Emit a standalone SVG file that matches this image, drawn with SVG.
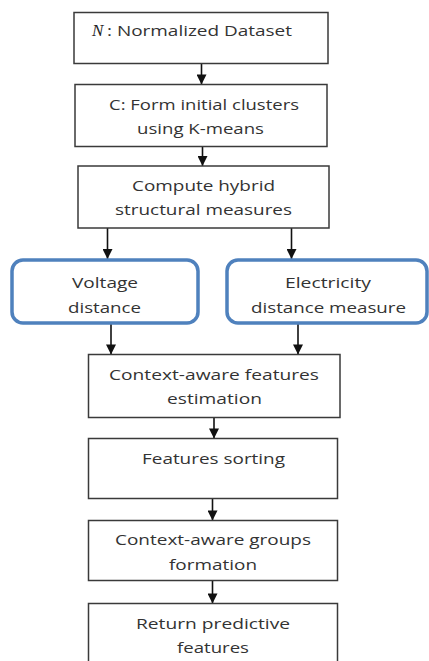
<svg xmlns="http://www.w3.org/2000/svg" width="429" height="661" viewBox="0 0 429 661">
<style>
.box{fill:#fff;stroke:#3a3a3a;stroke-width:1.5}
.rbox{fill:#fff;stroke:#4f81bd;stroke-width:3.5}
.t{font-family:"Open Sans","Liberation Sans",sans-serif;font-size:15px;fill:#333}
.m{font-family:"Liberation Serif",serif;font-style:italic;font-size:17px;fill:#222}
.c{stroke:#111;stroke-width:1.6;fill:none;marker-end:url(#ah)}
</style>
<defs>
<marker id="ah" markerUnits="userSpaceOnUse" markerWidth="12" markerHeight="10" refX="10" refY="5" orient="auto" viewBox="0 0 10 10">
<path d="M0,0 L10,5 L0,10 Z" fill="#111"/>
</marker>
</defs>
<rect width="429" height="661" fill="#fff"/>
<g id="connectors">
<line class="c" x1="201.5" y1="63.5" x2="201.5" y2="84.5"/>
<line class="c" x1="202.5" y1="146.5" x2="202.5" y2="166"/>
<line class="c" x1="107.5" y1="228" x2="107.5" y2="259"/>
<line class="c" x1="291.5" y1="228" x2="291.5" y2="259"/>
<line class="c" x1="111" y1="323" x2="111" y2="354.5"/>
<line class="c" x1="298" y1="324" x2="298" y2="354.5"/>
<line class="c" x1="214" y1="417.5" x2="214" y2="438.5"/>
<line class="c" x1="212.5" y1="498.5" x2="212.5" y2="520.5"/>
<line class="c" x1="212.5" y1="580.5" x2="212.5" y2="603.5"/>
</g>
<g id="n1">
<rect class="box" x="74" y="12.5" width="254" height="51"/>
<text class="m" x="92" y="36">N</text>
<text class="t" x="107" y="36" textLength="185" lengthAdjust="spacingAndGlyphs">: Normalized Dataset</text>
</g>
<g id="n2">
<rect class="box" x="75" y="84.5" width="252" height="62"/>
<text class="t" x="109" y="110" textLength="190" lengthAdjust="spacingAndGlyphs">C: Form initial clusters</text>
<text class="t" x="137" y="133.5" textLength="127" lengthAdjust="spacingAndGlyphs">using K-means</text>
</g>
<g id="n3">
<rect class="box" x="78" y="166" width="251" height="62"/>
<text class="t" x="132" y="191" textLength="143" lengthAdjust="spacingAndGlyphs">Compute hybrid</text>
<text class="t" x="115" y="215" textLength="177" lengthAdjust="spacingAndGlyphs">structural measures</text>
</g>
<g id="n4">
<rect class="rbox" x="12" y="260" width="186" height="63" rx="11"/>
<text class="t" x="72" y="288" textLength="66" lengthAdjust="spacingAndGlyphs">Voltage</text>
<text class="t" x="68" y="312.5" textLength="73" lengthAdjust="spacingAndGlyphs">distance</text>
</g>
<g id="n5">
<rect class="rbox" x="227" y="260" width="200" height="63" rx="11"/>
<text class="t" x="285" y="288" textLength="86" lengthAdjust="spacingAndGlyphs">Electricity</text>
<text class="t" x="251" y="312.5" textLength="155" lengthAdjust="spacingAndGlyphs">distance measure</text>
</g>
<g id="n6">
<rect class="box" x="88.5" y="354.5" width="251.5" height="63"/>
<text class="t" x="109" y="379.5" textLength="210" lengthAdjust="spacingAndGlyphs">Context-aware features</text>
<text class="t" x="167" y="404" textLength="95" lengthAdjust="spacingAndGlyphs">estimation</text>
</g>
<g id="n7">
<rect class="box" x="88.5" y="438.5" width="249" height="60"/>
<text class="t" x="142" y="463.5" textLength="143" lengthAdjust="spacingAndGlyphs">Features sorting</text>
</g>
<g id="n8">
<rect class="box" x="88.5" y="520.5" width="249" height="60"/>
<text class="t" x="115" y="545" textLength="196" lengthAdjust="spacingAndGlyphs">Context-aware groups</text>
<text class="t" x="169" y="569.5" textLength="88" lengthAdjust="spacingAndGlyphs">formation</text>
</g>
<g id="n9">
<rect class="box" x="88.5" y="603.5" width="249" height="70"/>
<text class="t" x="136" y="628.5" textLength="154" lengthAdjust="spacingAndGlyphs">Return predictive</text>
<text class="t" x="177" y="653" textLength="72" lengthAdjust="spacingAndGlyphs">features</text>
</g>
</svg>
